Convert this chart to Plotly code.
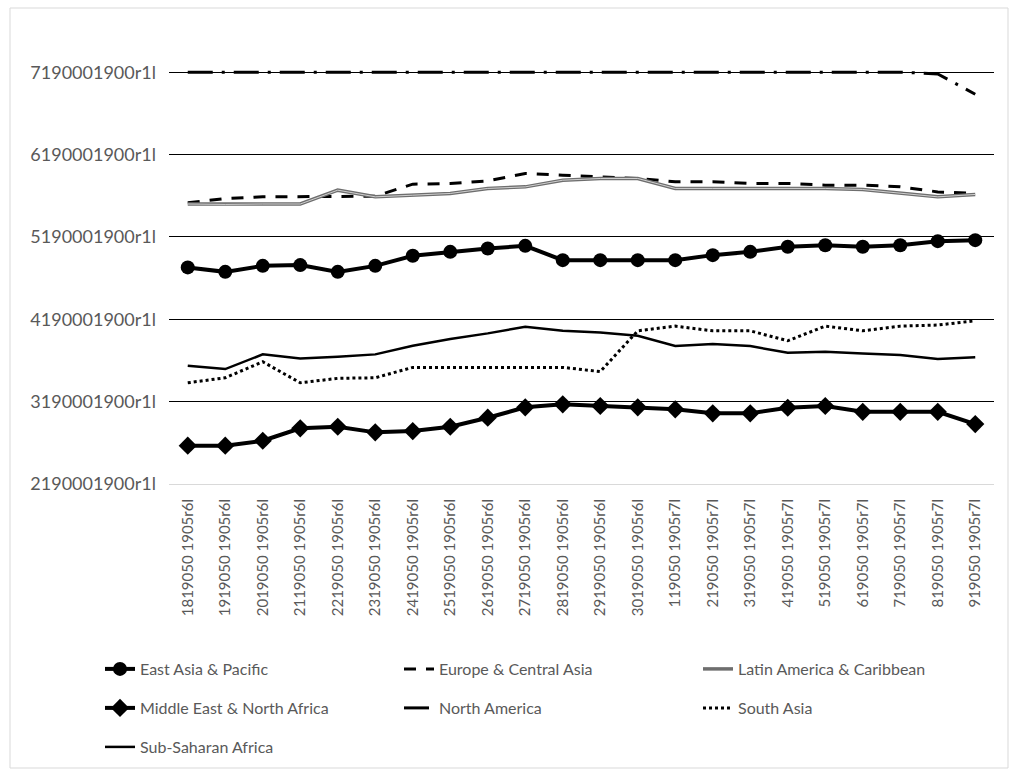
import plotly.graph_objects as go

# ---------------- data ----------------
days_r6 = list(range(18, 31))
days_r7 = list(range(1, 10))
categories = [f"{d}19050 1905r6l" for d in days_r6] + [f"{d}19050 1905r7l" for d in days_r7]

east_asia = [4.820e9, 4.766e9, 4.839e9, 4.848e9, 4.766e9, 4.839e9, 4.961e9, 5.009e9, 5.050e9, 5.082e9, 4.908e9,
             4.908e9, 4.908e9, 4.908e9, 4.969e9, 5.009e9, 5.070e9, 5.090e9, 5.070e9, 5.090e9, 5.139e9, 5.151e9]
europe = [5.604e9, 5.657e9, 5.677e9, 5.677e9, 5.685e9, 5.685e9, 5.831e9, 5.839e9, 5.871e9, 5.961e9, 5.940e9,
          5.919e9, 5.900e9, 5.859e9, 5.859e9, 5.839e9, 5.839e9, 5.819e9, 5.819e9, 5.798e9, 5.737e9, 5.718e9]
latin = [5.590e9, 5.585e9, 5.590e9, 5.590e9, 5.758e9, 5.677e9, 5.697e9, 5.718e9, 5.779e9, 5.798e9, 5.879e9,
         5.900e9, 5.900e9, 5.779e9, 5.779e9, 5.779e9, 5.779e9, 5.779e9, 5.766e9, 5.718e9, 5.677e9, 5.706e9]
mideast = [2.655e9, 2.655e9, 2.715e9, 2.866e9, 2.885e9, 2.817e9, 2.833e9, 2.885e9, 2.995e9, 3.121e9, 3.157e9,
           3.137e9, 3.121e9, 3.097e9, 3.048e9, 3.048e9, 3.116e9, 3.137e9, 3.067e9, 3.067e9, 3.067e9, 2.918e9]
north_america = [7.19e9] * 20 + [7.17e9, 6.923e9]
south_asia = [3.419e9, 3.480e9, 3.674e9, 3.419e9, 3.473e9, 3.480e9, 3.606e9, 3.606e9, 3.606e9, 3.606e9, 3.606e9,
              3.555e9, 4.050e9, 4.107e9, 4.050e9, 4.050e9, 3.929e9, 4.107e9, 4.050e9, 4.107e9, 4.120e9, 4.172e9]
subsaharan = [3.626e9, 3.586e9, 3.764e9, 3.715e9, 3.735e9, 3.764e9, 3.868e9, 3.950e9, 4.019e9, 4.099e9, 4.050e9,
              4.031e9, 3.990e9, 3.865e9, 3.889e9, 3.865e9, 3.783e9, 3.796e9, 3.776e9, 3.756e9, 3.707e9, 3.728e9]

y_ticks = [2190001900, 3190001900, 4190001900, 5190001900, 6190001900, 7190001900]
y_ticktext = [f"{v}r1l" for v in y_ticks]

# ---------------- figure ----------------
W, H = 1018, 776
ML, MR, MT, MB = 169, 24, 64, 292
PW = W - ML - MR
PH = H - MT - MB

FONT = "Lato"
GRAY = "#595959"

fig = go.Figure()

fig.add_trace(go.Scatter(x=categories, y=east_asia, name="East Asia & Pacific", mode="lines+markers",
                         line=dict(color="black", width=4), marker=dict(symbol="circle", size=14, color="black"),
                         legend="legend"))
fig.add_trace(go.Scatter(x=categories, y=europe, name="Europe & Central Asia", mode="lines",
                         line=dict(color="black", width=3, dash="12px,10px"), legend="legend"))
fig.add_trace(go.Scatter(x=categories, y=latin, name="Latin America & Caribbean", mode="lines",
                         line=dict(color="#6e6e6e", width=3.5), legend="legend", legendgroup="latin"))
fig.add_trace(go.Scatter(x=categories, y=latin, name="Latin America & Caribbean", mode="lines",
                         line=dict(color="#d0d0d0", width=1), showlegend=False, legendgroup="latin",
                         hoverinfo="skip"))
fig.add_trace(go.Scatter(x=categories, y=mideast, name="Middle East & North Africa", mode="lines+markers",
                         line=dict(color="black", width=4), marker=dict(symbol="diamond", size=14, color="black"),
                         legend="legend2"))
fig.add_trace(go.Scatter(x=categories, y=north_america, name="North America", mode="lines",
                         line=dict(color="black", width=3, dash="25px,9px,3px,9px"), legend="legend2"))
fig.add_trace(go.Scatter(x=categories, y=south_asia, name="South Asia", mode="lines",
                         line=dict(color="black", width=3, dash="3px,3px"), legend="legend2"))
fig.add_trace(go.Scatter(x=categories, y=subsaharan, name="Sub-Saharan Africa", mode="lines",
                         line=dict(color="black", width=2.5), legend="legend3"))

def py_to_paper(py):
    return (H - MB - py) / PH

def px_to_paper(px):
    return (px - ML) / PW

legend_common = dict(orientation="h", xanchor="left", yanchor="middle",
                     font=dict(family=FONT, size=16, color=GRAY),
                     entrywidth=254, entrywidthmode="pixels", bgcolor="rgba(0,0,0,0)",
                     itemclick=False, itemdoubleclick=False)

fig.update_layout(
    width=W, height=H,
    margin=dict(l=ML, r=MR, t=MT, b=MB),
    paper_bgcolor="white", plot_bgcolor="white",
    font=dict(family=FONT, color=GRAY),
    legend=dict(x=px_to_paper(100), y=py_to_paper(669), **legend_common),
    legend2=dict(x=px_to_paper(100), y=py_to_paper(708), **legend_common),
    legend3=dict(x=px_to_paper(100), y=py_to_paper(747), **legend_common),
    xaxis=dict(type="category", showgrid=False, showline=True, linecolor="#d9d9d9", linewidth=1,
               tickangle=-90, tickfont=dict(family=FONT, size=15, color=GRAY), ticks="",
               ticklabelstandoff=8, range=[-0.5, len(categories) - 0.5], fixedrange=True),
    yaxis=dict(range=[y_ticks[0], y_ticks[-1] + 0.1e9], tickvals=y_ticks, ticktext=y_ticktext,
               showgrid=True, gridcolor="black", gridwidth=1, zeroline=False, showline=False,
               tickfont=dict(family=FONT, size=18, color=GRAY), ticks="", ticklabelstandoff=12,
               fixedrange=True),
    showlegend=True,
)

# outer chart border
fig.add_shape(type="rect", xref="paper", yref="paper",
              x0=px_to_paper(10), x1=px_to_paper(1008), y0=py_to_paper(768), y1=py_to_paper(8),
              line=dict(color="#d9d9d9", width=1), fillcolor="rgba(0,0,0,0)", layer="below")

fig.write_html("out.html")
